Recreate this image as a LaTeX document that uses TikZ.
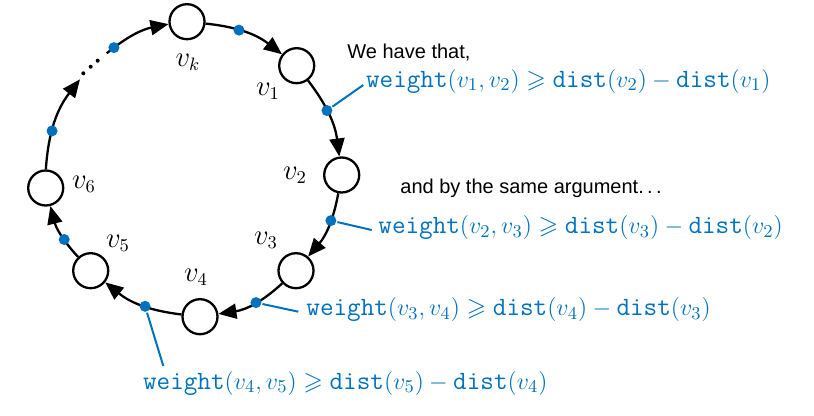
\documentclass[tikz,border=0pt]{standalone}
\usepackage{amssymb}
\usepackage{fontspec}
\setsansfont{Liberation Sans}
\usetikzlibrary{arrows.meta}
\definecolor{myblue}{RGB}{0,114,189}
\newcommand\tw[1]{\mbox{\fontsize{13.2}{14}\selectfont\ttfamily #1}}
\begin{document}
\begin{tikzpicture}[x=0.5pt,y=-0.5pt,
  vert/.style={circle,draw,line width=1.15pt,minimum size=17.5pt,inner sep=0pt},
  edge/.style={line width=1.15pt,-{Triangle[length=9pt,width=7.5pt]}},
  bdot/.style={circle,fill=myblue,inner sep=0pt,minimum size=5.5pt},
  bline/.style={myblue,line width=1pt},
  vlab/.style={font=\fontsize{13.5}{15}\selectfont,inner sep=0pt},
  eq/.style={text=myblue,font=\fontsize{12.6}{14}\selectfont,inner sep=0pt,anchor=base west},
  note/.style={font=\sffamily\fontsize{10}{12}\selectfont,inner sep=0pt,anchor=base west}]
\useasboundingbox (0,0) rectangle (814,416);
% vertices
\node[vert] (vk) at (187,21.7) {};
\node[vert] (v1) at (296.7,65.7) {};
\node[vert] (v2) at (341.7,175) {};
\node[vert] (v3) at (296,270.7) {};
\node[vert] (v4) at (200,316.7) {};
\node[vert] (v5) at (90.7,270.7) {};
\node[vert] (v6) at (45.7,188) {};
\coordinate (d1) at (80,79.3);
\coordinate (d2) at (106.7,53.3);
% labels
\node[vlab] (lk) at (188,62) {$v_k$};
\node[vlab] (l1) at (268,91) {$v_1$};
\node[vlab] (l2) at (295,175) {$v_2$};
\node[vlab] (l3) at (266,240) {$v_3$};
\node[vlab] (l4) at (196,277) {$v_4$};
\node[vlab] (l5) at (118,243) {$v_5$};
\node[vlab] (l6) at (84,184) {$v_6$};
% edges
\draw[edge] (vk) to[bend left=16] node[bdot,pos=0.4] (bk) {} (v1);
\draw[edge] (v1) to[bend left=15] node[bdot,pos=0.42] (b1) {} (v2);
\draw[edge] (v2) to[bend left=15] node[bdot,pos=0.39] (b2) {} (v3);
\draw[edge] (v3) to[bend left=17] node[bdot,pos=0.45] (b3) {} (v4);
\draw[edge] (v4) to[bend left=16] node[bdot,pos=0.44] (b4) {} (v5);
\draw[edge] (v5) to[bend left=14] node[bdot,pos=0.37] (b5) {} (v6);
\draw[edge] (v6) to[bend left=17] node[bdot,pos=0.39] (b6) {} (d1);
\draw[edge] (d2) to[bend left=14] node[bdot,pos=0.12] (b7) {} (vk);
% ellipsis
\fill (83.3,73.3) circle (1pt) (90.7,66.7) circle (1pt) (97.7,60.7) circle (1pt);
% texts
\node[note] (t1) at (347,58.3) {We have that,};
\node[note] (t2) at (400,194) {and by the same argument.\kern.17em.\kern.17em.};
\node[eq] (e1) at (365.7,87.3) {$\tw{weight}(v_1,v_2)\geqslant\tw{dist}(v_2)-\tw{dist}(v_1)$};
\node[eq] (e2) at (378,234) {$\tw{weight}(v_2,v_3)\geqslant\tw{dist}(v_3)-\tw{dist}(v_2)$};
\node[eq] (e3) at (306,316) {$\tw{weight}(v_3,v_4)\geqslant\tw{dist}(v_4)-\tw{dist}(v_3)$};
\node[eq] (e4) at (142.7,389.3) {$\tw{weight}(v_4,v_5)\geqslant\tw{dist}(v_5)-\tw{dist}(v_4)$};
% connectors to texts
\coordinate (c1) at (363.3,85);
\coordinate (c2) at (371.7,230);
\coordinate (c3) at (298.3,311.7);
\coordinate (c4) at (163.3,366);
\draw[bline] (b1) -- (c1);
\draw[bline] (b2) -- (c2);
\draw[bline] (b3) -- (c3);
\draw[bline] (b4) -- (c4);
\end{tikzpicture}
\end{document}
